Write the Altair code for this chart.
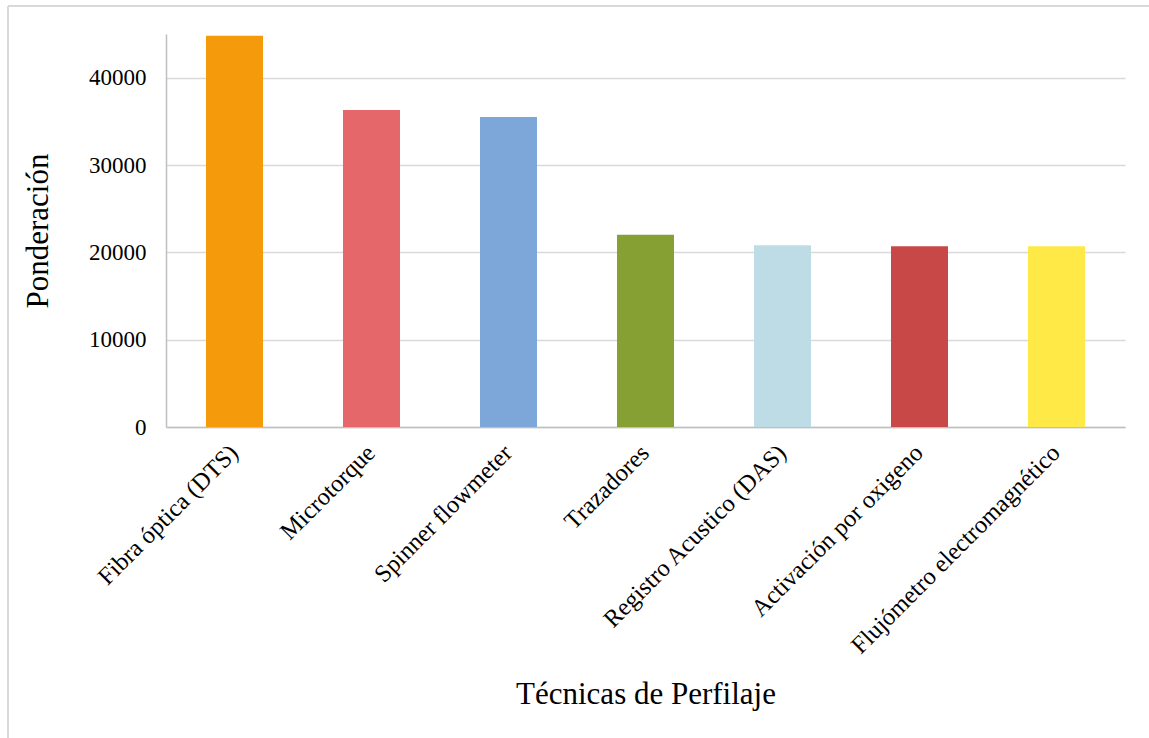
import altair as alt
import pandas as pd

# Profiling techniques and their weighted scores
tecnicas = [
    "Fibra óptica (DTS)",
    "Microtorque",
    "Spinner flowmeter",
    "Trazadores",
    "Registro Acustico (DAS)",
    "Activación por oxigeno",
    "Flujómetro electromagnético",
]
ponderacion = [44800, 36300, 35500, 22000, 20800, 20700, 20700]
colores = ["#F59A0A", "#E5676A", "#7DA7D9", "#86A034", "#BDDCE6", "#C84848", "#FFE946"]
y_ticks = [0, 10000, 20000, 30000, 40000]

df = pd.DataFrame({"tecnica": tecnicas, "valor": ponderacion, "color": colores})

FONT = "Liberation Serif"
W, H = 959, 393
PAD_L, PAD_T, PAD_R, PAD_B = 166, 34, 24, 311

bars = alt.Chart(df).mark_bar().encode(
    x=alt.X(
        "tecnica:N",
        sort=tecnicas,
        scale=alt.Scale(paddingInner=0.584, paddingOuter=0.292),
        axis=alt.Axis(
            title="Técnicas de Perfilaje",
            labelAngle=-45,
            labelAlign="right",
            labelBaseline="middle",
            labelPadding=22,
            labelFontSize=24.5,
            labelFont=FONT,
            labelColor="#000000",
            labelLimit=400,
            ticks=False,
            domainColor="#BFBFBF",
            domainWidth=1.5,
            titleFont=FONT,
            titleFontSize=31,
            titleFontWeight="normal",
            titleColor="#000000",
            titleY=276,
            titleBaseline="alphabetic",
        ),
    ),
    y=alt.Y(
        "valor:Q",
        scale=alt.Scale(domain=[0, 45000], nice=False),
        axis=alt.Axis(
            title="Ponderación",
            values=y_ticks,
            format="d",
            labelFontSize=23,
            labelFont=FONT,
            labelColor="#000000",
            labelPadding=20,
            ticks=False,
            domainColor="#BFBFBF",
            domainWidth=1.5,
            gridColor="#D9D9D9",
            gridWidth=1.5,
            titleFont=FONT,
            titleFontSize=31,
            titleFontWeight="normal",
            titleColor="#000000",
            titleX=-119,
            titleBaseline="alphabetic",
        ),
    ),
    color=alt.Color("color:N", scale=None, legend=None),
)

# Frame around the whole figure (left and top edges)
frame_left = alt.Chart(df).mark_rule(color="#D9D9D9", strokeWidth=2).encode(
    x=alt.value(8 - PAD_L), y=alt.value(6 - PAD_T), y2=alt.value(738 - PAD_T)
)
frame_top = alt.Chart(df).mark_rule(color="#D9D9D9", strokeWidth=2).encode(
    x=alt.value(8 - PAD_L), x2=alt.value(1149 - PAD_L), y=alt.value(6 - PAD_T)
)

chart = (
    alt.layer(bars, frame_left, frame_top)
    .properties(
        width=W,
        height=H,
        autosize=alt.AutoSizeParams(type="none"),
        padding={"left": PAD_L, "top": PAD_T, "right": PAD_R, "bottom": PAD_B},
        background="#FFFFFF",
    )
    .configure_view(stroke=None)
)

chart.save("out.html", embed_options={"renderer": "svg", "actions": False})
